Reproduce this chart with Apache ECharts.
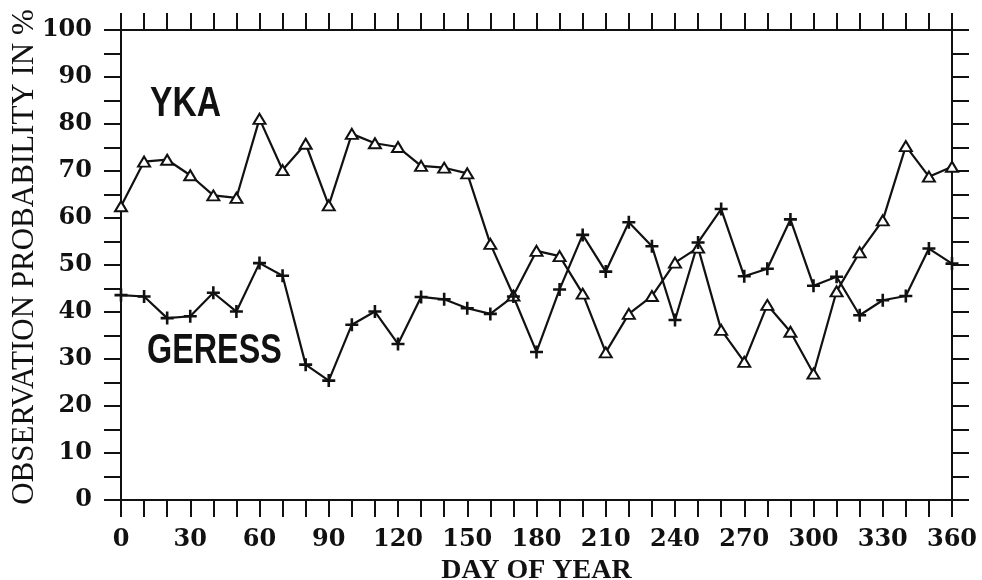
<!DOCTYPE html>
<html lang="en">
<head>
    <meta charset="UTF-8">
    <title>Observation probability</title>
    <script type="text/javascript" src="https://cdn.jsdelivr.net/npm/echarts@6/dist/echarts.min.js"></script>
    <style>
        body { margin: 0; background: #fff; }
    </style>
</head>
<body>
<div id="main" style="width: 982px;height:580px;"></div>

<script>
    // day of year, every 10 days
    var days = [0, 10, 20, 30, 40, 50, 60, 70, 80, 90, 100, 110, 120, 130, 140, 150, 160, 170, 180,
        190, 200, 210, 220, 230, 240, 250, 260, 270, 280, 290, 300, 310, 320, 330, 340, 350, 360];
    // YKA (triangles)
    var yka = [62.5, 72, 72.4, 69.1, 64.8, 64.3, 81.1, 70.2, 75.8, 62.7, 77.9, 75.9, 75.1, 71.1, 70.7,
        69.5, 54.5, 43.5, 53, 51.9, 43.9, 31.4, 39.6, 43.4, 50.5, 53.7, 36.2, 29.4, 41.5, 35.8, 26.9,
        44.4, 52.7, 59.5, 75.3, 68.8, 70.9];
    // GERESS (crosses)
    var geress = [43.6, 43.3, 38.7, 39.1, 44.1, 40.1, 50.4, 47.7, 28.8, 25.4, 37.3, 40.1, 33.2, 43.2,
        42.7, 40.8, 39.6, 43.3, 31.5, 44.8, 56.4, 48.6, 59.1, 54.0, 38.3, 54.8, 61.9, 47.6, 49.2, 59.7,
        45.6, 47.5, 39.3, 42.5, 43.4, 53.5, 50.3];
    var xLabels = [0, 30, 60, 90, 120, 150, 180, 210, 240, 270, 300, 330, 360];
    var yLabels = [0, 10, 20, 30, 40, 50, 60, 70, 80, 90, 100];

    function pairs(vals) {
        return days.map(function (d, i) { return [d, vals[i]]; });
    }

    var black = '#111';
    var tick = { show: true, inside: false, length: 17, lineStyle: { color: black, width: 2 } };
    var line = { show: true, onZero: false, lineStyle: { color: black, width: 2 } };
    var labelFont = { fontFamily: 'DejaVu Serif', fontWeight: 'bold', fontSize: 24, color: black };
    var plus = 'path://M4,0h2v4h4v2h-4v4h-2v-4h-4v-2h4z';

    var myChart = echarts.init(document.getElementById('main'));
    myChart.setOption({
        backgroundColor: '#fff',
        animation: false,
        grid: { left: 121, right: 30, top: 30, bottom: 80, outerBoundsMode: 'none', containLabel: false },
        xAxis: [{
            type: 'value', min: 0, max: 360, interval: 10, position: 'bottom',
            axisLine: line, axisTick: tick, splitLine: { show: false },
            axisLabel: Object.assign({
                margin: 28,
                formatter: function (v) { return xLabels.indexOf(v) >= 0 ? String(v) : ''; }
            }, labelFont),
            name: 'DAY OF YEAR', nameLocation: 'middle', nameGap: 57,
            nameTextStyle: { fontFamily: 'Liberation Serif', fontWeight: 'bold', fontSize: 28, color: black }
        }, {
            type: 'value', min: 0, max: 360, interval: 10, position: 'top',
            axisLine: line, axisTick: tick, axisLabel: { show: false }, splitLine: { show: false }
        }],
        yAxis: [{
            type: 'value', min: 0, max: 100, interval: 5, position: 'left',
            axisLine: line, axisTick: tick, splitLine: { show: false },
            axisLabel: Object.assign({
                margin: 29,
                formatter: function (v) { return yLabels.indexOf(v) >= 0 ? String(v) : ''; }
            }, labelFont),
            name: 'OBSERVATION PROBABILITY IN %', nameLocation: 'middle', nameGap: 81, nameRotate: 90,
            nameMoveOverlap: false,
            nameTextStyle: { fontFamily: 'Liberation Serif', fontSize: 31, color: black, padding: [0, 0, 0, 16] }
        }, {
            type: 'value', min: 0, max: 100, interval: 5, position: 'right',
            axisLine: line, axisTick: tick, axisLabel: { show: false }, splitLine: { show: false }
        }],
        graphic: [{
            type: 'text', left: 150, top: 83, scaleX: 0.8,
            style: { text: 'YKA', font: 'bold 42px "Liberation Sans", sans-serif', fill: black }
        }, {
            type: 'text', left: 147, top: 330, scaleX: 0.77,
            style: { text: 'GERESS', font: 'bold 42px "Liberation Sans", sans-serif', fill: black }
        }],
        series: [{
            name: 'YKA', type: 'line', data: pairs(yka),
            symbol: 'triangle', symbolSize: [12, 10], showAllSymbol: true,
            lineStyle: { color: black, width: 2.2 },
            itemStyle: { color: '#fff', borderColor: black, borderWidth: 2 }
        }, {
            name: 'GERESS', type: 'line', data: pairs(geress),
            symbol: plus, symbolSize: 13, showAllSymbol: true,
            lineStyle: { color: black, width: 2.2 },
            itemStyle: { color: black }
        }]
    });
</script>

</body>
</html>
